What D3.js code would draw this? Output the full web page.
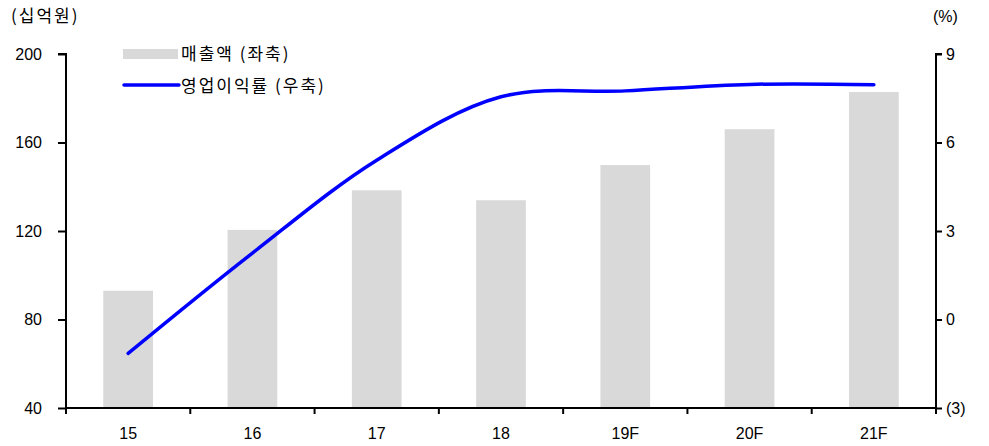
<!DOCTYPE html>
<html>
<head>
<meta charset="utf-8">
<script src="https://cdn.jsdelivr.net/npm/d3@7"></script>
<style>
  body { margin: 0; background: #fff; }
  text { font-family: "Liberation Sans", Arial, sans-serif; fill: #000; }
  .kr { font-family: "Noto Sans CJK KR", "Liberation Sans", sans-serif; }
</style>
</head>
<body>
<script>
// data
var years = ["15", "16", "17", "18", "19F", "20F", "21F"];
var sales = [93, 120.5, 138.4, 133.9, 149.8, 166, 182.8];      // 매출액 (십억원)
var margin = [-1.15, 2.25, 5.4, 7.55, 7.75, 7.97, 7.96];       // 영업이익률 (%)
var leftTicks = [40, 80, 120, 160, 200];
var rightTicks = [-3, 0, 3, 6, 9];

var W = 989, H = 446;
var pLeft = 66, pRight = 936, pTop = 54, pBottom = 408;

var svg = d3.select("body").append("svg")
    .attr("width", W)
    .attr("height", H);

var x = d3.scaleBand()
    .domain(years)
    .range([pLeft, pRight])
    .paddingInner(0.6)
    .paddingOuter(0.3);

var yL = d3.scaleLinear().domain([40, 200]).range([pBottom, pTop]);
var yR = d3.scaleLinear().domain([-3, 9]).range([pBottom, pTop]);

// bars
svg.selectAll(".bar")
    .data(years)
    .enter().append("rect")
    .attr("class", "bar")
    .attr("x", function(d) { return x(d); })
    .attr("width", x.bandwidth())
    .attr("y", function(d, i) { return yL(sales[i]); })
    .attr("height", function(d, i) { return pBottom - yL(sales[i]); })
    .style("fill", "#d9d9d9");

// line
var line = d3.line()
    .x(function(d, i) { return x(years[i]) + x.bandwidth() / 2; })
    .y(function(d) { return yR(d); })
    .curve(d3.curveCatmullRom.alpha(0.5));

svg.append("path")
    .datum(margin)
    .attr("d", line)
    .attr("fill", "none")
    .attr("stroke", "#0000ff")
    .attr("stroke-width", 3.5)
    .attr("stroke-linecap", "round");

// left axis
var axL = svg.append("g")
    .attr("transform", "translate(" + pLeft + ",0)")
    .call(d3.axisLeft(yL).tickValues(leftTicks).tickSize(8).tickPadding(16));

// right axis
var axR = svg.append("g")
    .attr("transform", "translate(" + pRight + ",0)")
    .call(d3.axisRight(yR).tickValues(rightTicks).tickSize(6).tickPadding(4)
      .tickFormat(function(d) { return d < 0 ? "(" + Math.abs(d) + ")" : d; }));

// x axis: ticks at band boundaries
var axX = svg.append("g")
    .attr("transform", "translate(0," + pBottom + ")");
axX.append("line")
    .attr("x1", pLeft).attr("x2", pRight)
    .attr("stroke", "#000").attr("stroke-width", 2);
var bounds = d3.range(years.length + 1).map(function(i) { return pLeft + i * x.step(); });
axX.selectAll(".xt")
    .data(bounds)
    .enter().append("line")
    .attr("x1", function(d) { return d; })
    .attr("x2", function(d) { return d; })
    .attr("y1", 0).attr("y2", 6)
    .attr("stroke", "#000").attr("stroke-width", 2);
axX.selectAll(".xl")
    .data(years)
    .enter().append("text")
    .attr("x", function(d) { return x(d) + x.bandwidth() / 2; })
    .attr("y", 31)
    .attr("text-anchor", "middle")
    .style("font-size", "16px")
    .text(function(d) { return d; });

[axL, axR].forEach(function(g) {
  g.select(".domain").attr("stroke", "#000").attr("stroke-width", 2);
  g.selectAll(".tick line").attr("stroke", "#000").attr("stroke-width", 2);
  g.selectAll(".tick text")
    .style("font-size", "16px")
    .style("font-family", "'Liberation Sans', Arial, sans-serif")
    .attr("fill", "#000");
});
axL.select(".domain").attr("d", "M0," + pBottom + "V" + pTop + "H-8");
axR.select(".domain").attr("d", "M0," + (pBottom + 6) + "V" + pTop + "H6");

// unit labels
svg.append("text").attr("class", "kr")
    .attr("x", 11).attr("y", 22)
    .style("font-size", "17px")
    .style("letter-spacing", "2px")
    .text("(십억원)");
svg.append("text")
    .attr("x", 933).attr("y", 22)
    .style("font-size", "16px")
    .text("(%)");

// legend
svg.append("rect")
    .attr("x", 123).attr("y", 49)
    .attr("width", 55).attr("height", 10)
    .style("fill", "#d9d9d9");
svg.append("text").attr("class", "kr")
    .attr("x", 181).attr("y", 60)
    .style("font-size", "17px")
    .style("letter-spacing", "2px")
    .text("매출액 (좌축)");
svg.append("line")
    .attr("x1", 124).attr("x2", 179)
    .attr("y1", 85).attr("y2", 85)
    .attr("stroke", "#0000ff").attr("stroke-width", 3.5)
    .attr("stroke-linecap", "round");
svg.append("text").attr("class", "kr")
    .attr("x", 181).attr("y", 92)
    .style("font-size", "17px")
    .style("letter-spacing", "2px")
    .text("영업이익률 (우축)");
</script>
</body>
</html>
